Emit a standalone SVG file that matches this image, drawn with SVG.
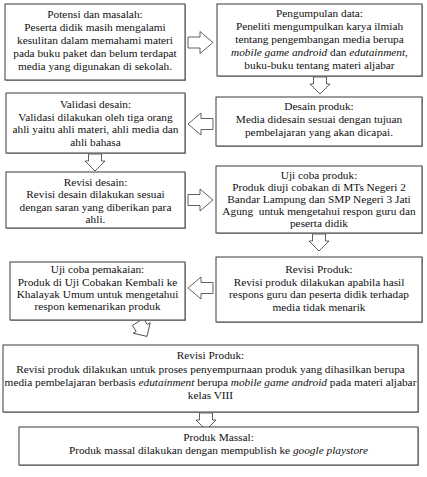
<svg xmlns="http://www.w3.org/2000/svg" width="427" height="477" viewBox="0 0 427 477">
<style>
.box{fill:#fff;stroke:#3a3a3a;stroke-width:1}
.sh{fill:#a8a8a8}
.arr{fill:#fff;stroke:#3a3a3a;stroke-width:0.8}
text{font-family:"Liberation Serif","Times New Roman",serif;font-size:11.3px;fill:#111;text-anchor:middle}
.i{font-style:italic}
</style>
<defs>
<path id="ah" d="M0,-5.5 L12,-5.5 L12,-11 L25,0 L12,11 L12,5.5 L0,5.5 Z"/>
<path id="dn" d="M0,-6.5 L7,-6.5 L7,-10 L17,0 L7,10 L7,6.5 L0,6.5 Z"/>
</defs>
<rect width="427" height="477" fill="#fff"/>
<g id="connectors">
<use href="#ah" class="arr" transform="translate(188,42.5)"/>
<use href="#dn" class="arr" transform="translate(320,77) rotate(90)"/>
<use href="#ah" class="arr" transform="translate(213,124) rotate(180)"/>
<use href="#dn" class="arr" transform="translate(95,154) rotate(90)"/>
<use href="#ah" class="arr" transform="translate(188,200)"/>
<use href="#dn" class="arr" transform="translate(319,234) rotate(90)"/>
<use href="#ah" class="arr" transform="translate(213,288) rotate(180)"/>
<use href="#dn" class="arr" transform="translate(138,322) rotate(58)"/>
<use href="#dn" class="arr" transform="translate(206,413) rotate(90)"/>
</g>
<g id="n1">
<rect class="sh" x="6" y="5" width="180" height="76"/>
<rect class="box" x="5" y="4" width="180" height="76"/>
<text x="95" y="18">Potensi dan masalah:</text>
<text x="95" y="31">Peserta didik masih mengalami</text>
<text x="95" y="44">kesulitan dalam memahami materi</text>
<text x="95" y="57">pada buku paket dan belum terdapat</text>
<text x="95" y="70">media yang digunakan di sekolah.</text>
</g>
<g id="n2">
<rect class="sh" x="218" y="5" width="205" height="72"/>
<rect class="box" x="217" y="4" width="205" height="72"/>
<text x="319.5" y="17">Pengumpulan data:</text>
<text x="319.5" y="30">Peneliti mengumpulkan karya ilmiah</text>
<text x="319.5" y="43">tentang pengembangan media berupa</text>
<text x="319.5" y="56"><tspan class="i">mobile game android</tspan> dan <tspan class="i">edutainment</tspan>,</text>
<text x="319.5" y="69">buku-buku tentang materi aljabar</text>
</g>
<g id="n3">
<rect class="sh" x="217" y="98" width="206" height="49"/>
<rect class="box" x="216" y="97" width="206" height="49"/>
<text x="319" y="110">Desain produk:</text>
<text x="319" y="123">Media didesain sesuai dengan tujuan</text>
<text x="319" y="136">pembelajaran yang akan dicapai.</text>
</g>
<g id="n4">
<rect class="sh" x="7" y="94" width="179" height="60"/>
<rect class="box" x="6" y="93" width="179" height="60"/>
<text x="95.5" y="108">Validasi desain:</text>
<text x="95.5" y="121">Validasi dilakukan oleh tiga orang</text>
<text x="95.5" y="133">ahli yaitu ahli materi, ahli media dan</text>
<text x="95.5" y="146">ahli bahasa</text>
</g>
<g id="n5">
<rect class="sh" x="7" y="173" width="179" height="56"/>
<rect class="box" x="6" y="172" width="179" height="56"/>
<text x="95.5" y="186">Revisi desain:</text>
<text x="95.5" y="198">Revisi desain dilakukan sesuai</text>
<text x="95.5" y="211">dengan saran yang diberikan para</text>
<text x="95.5" y="223">ahli.</text>
</g>
<g id="n6">
<rect class="sh" x="217" y="167" width="206" height="67"/>
<rect class="box" x="216" y="166" width="206" height="67"/>
<text x="319" y="179">Uji coba produk:</text>
<text x="319" y="191">Produk diuji cobakan di MTs Negeri 2</text>
<text x="319" y="203">Bandar Lampung dan SMP Negeri 3 Jati</text>
<text x="319" y="215" xml:space="preserve">Agung  untuk mengetahui respon guru dan</text>
<text x="319" y="227">peserta didik</text>
</g>
<g id="n7">
<rect class="sh" x="217" y="258" width="206" height="65"/>
<rect class="box" x="216" y="257" width="206" height="65"/>
<text x="319" y="273">Revisi Produk:</text>
<text x="319" y="286">Revisi produk dilakukan apabila hasil</text>
<text x="319" y="298">respons guru dan peserta didik terhadap</text>
<text x="319" y="311">media tidak menarik</text>
</g>
<g id="n8">
<rect class="sh" x="11" y="263" width="175" height="58"/>
<rect class="box" x="10" y="262" width="175" height="58"/>
<text x="97.5" y="273">Uji coba pemakaian:</text>
<text x="97.5" y="286">Produk di Uji Cobakan Kembali ke</text>
<text x="97.5" y="298">Khalayak Umum untuk mengetahui</text>
<text x="97.5" y="310">respon kemenarikan produk</text>
</g>
<g id="n9">
<rect class="sh" x="4" y="346" width="415" height="67"/>
<rect class="box" x="3" y="345" width="415" height="67"/>
<text x="210.5" y="359">Revisi Produk:</text>
<text x="210.5" y="373">Revisi produk dilakukan untuk proses penyempurnaan produk yang dihasilkan berupa</text>
<text x="210.5" y="386">media pembelajaran berbasis <tspan class="i">edutainment</tspan> berupa <tspan class="i">mobile game android</tspan> pada materi aljabar</text>
<text x="210.5" y="399">kelas VIII</text>
</g>
<g id="n10">
<rect class="sh" x="20" y="428" width="399" height="38"/>
<rect class="box" x="19" y="427" width="399" height="38"/>
<text x="218.5" y="441">Produk Massal:</text>
<text x="218.5" y="454">Produk massal dilakukan dengan mempublish ke <tspan class="i">google playstore</tspan></text>
</g>
</svg>
